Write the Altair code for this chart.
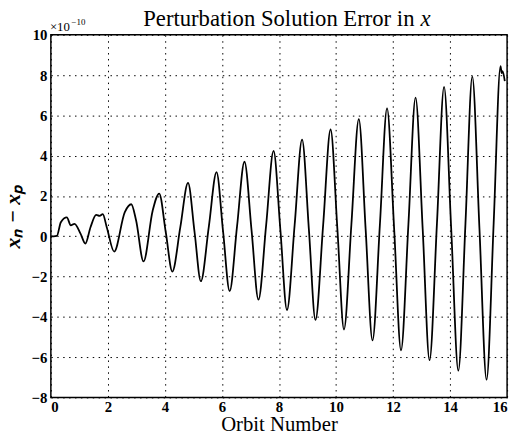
import altair as alt
import pandas as pd

# Orbit number and error (units of 1e-10)
orbit = [0.00, 0.10, 0.21, 0.35, 0.56, 0.70, 0.83, 1.04, 1.21, 1.39, 1.59, 1.71, 1.82, 1.96,
         2.22, 2.59, 2.82, 2.99, 3.25, 3.57, 3.80,
         4.03, 4.26, 4.54, 4.81, 5.04, 5.26, 5.54, 5.81, 6.04, 6.27, 6.53, 6.79,
         7.04, 7.28, 7.55, 7.81, 8.05, 8.28, 8.55, 8.81, 9.05, 9.28, 9.55, 9.81,
         10.05, 10.28, 10.54, 10.80, 11.04, 11.28, 11.54, 11.79, 12.04, 12.28, 12.54, 12.79,
         13.04, 13.28, 13.54, 13.79, 14.04, 14.29, 14.54, 14.78, 15.03, 15.28, 15.53, 15.77,
         15.81, 15.84, 15.92]
err = [0.00, 0.00, 0.02, 0.70, 0.94, 0.54, 0.62, 0.13, -0.36, 0.45, 1.06, 1.01, 1.10, 0.45,
       -0.76, 1.19, 1.59, 0.78, -1.25, 1.27, 2.12,
       0.20, -1.75, 0.45, 2.65, 0.20, -2.23, 0.48, 3.18, 0.23, -2.72, 0.50, 3.70,
       0.27, -3.15, 0.55, 4.24, 0.30, -3.66, 0.57, 4.80, 0.32, -4.15, 0.58, 5.30,
       0.33, -4.63, 0.60, 5.82, 0.33, -5.17, 0.60, 6.35, 0.34, -5.66, 0.61, 6.88,
       0.36, -6.15, 0.63, 7.42, 0.37, -6.67, 0.63, 7.93, 0.40, -7.12, 0.67, 8.45,
       8.10, 8.20, 7.70]

x_ticks = [0, 2, 4, 6, 8, 10, 12, 14, 16]
y_ticks = [-8, -6, -4, -2, 0, 2, 4, 6, 8, 10]

title_main = "Perturbation Solution Error in"
title_var = "x"

df = pd.DataFrame({"orbit": orbit, "err": err})

line = alt.Chart(df).mark_line(color="black", strokeWidth=1.8, interpolate="monotone").encode(
    x=alt.X("orbit:Q", scale=alt.Scale(domain=[0, 16], nice=False),
            axis=alt.Axis(values=x_ticks, title="Orbit Number", format="d")),
    y=alt.Y("err:Q", scale=alt.Scale(domain=[-8, 10], nice=False),
            axis=alt.Axis(values=y_ticks, title="xₙ − xₚ", format="d")),
)

one = pd.DataFrame({"a": [0]})

t_main = alt.Chart(one).mark_text(
    align="right", baseline="alphabetic", font="Liberation Serif", fontSize=23, color="black"
).encode(text=alt.value(title_main), x=alt.value(369), y=alt.value(-9))

t_var = alt.Chart(one).mark_text(
    align="left", baseline="alphabetic", font="Liberation Serif", fontSize=23,
    fontStyle="italic", color="black"
).encode(text=alt.value(title_var), x=alt.value(375), y=alt.value(-9))

s_base = alt.Chart(one).mark_text(
    align="left", baseline="alphabetic", font="Liberation Serif", fontSize=13, color="black"
).encode(text=alt.value("×10"), x=alt.value(-1), y=alt.value(-4))

s_exp = alt.Chart(one).mark_text(
    align="left", baseline="alphabetic", font="Liberation Serif", fontSize=9, color="black"
).encode(text=alt.value("−10"), x=alt.value(21), y=alt.value(-10))

chart = (line + t_main + t_var + s_base + s_exp).properties(
    width=463, height=368,
    autosize=alt.AutoSizeParams(type="none"),
    padding={"left": 43.5, "top": 24, "right": 6, "bottom": 42},
).configure_view(
    stroke="black", strokeWidth=1.5
).configure_axis(
    domain=False,
    grid=True, gridColor="black", gridDash=[1.5, 4.5], gridWidth=1, gridOpacity=1,
    ticks=False,
    labelFont="Liberation Serif", labelFontWeight="bold", labelFontSize=15, labelColor="black",
    titleFont="Liberation Serif", titleFontWeight="normal", titleFontSize=21, titleColor="black",
).configure_axisX(
    labelPadding=2, titlePadding=0
).configure_axisY(
    labelPadding=4, titleFontStyle="italic", titleFontWeight="bold", titleFontSize=22,
    titlePadding=7
)

chart.save("out.html", embed_options={"renderer": "svg", "actions": False})
